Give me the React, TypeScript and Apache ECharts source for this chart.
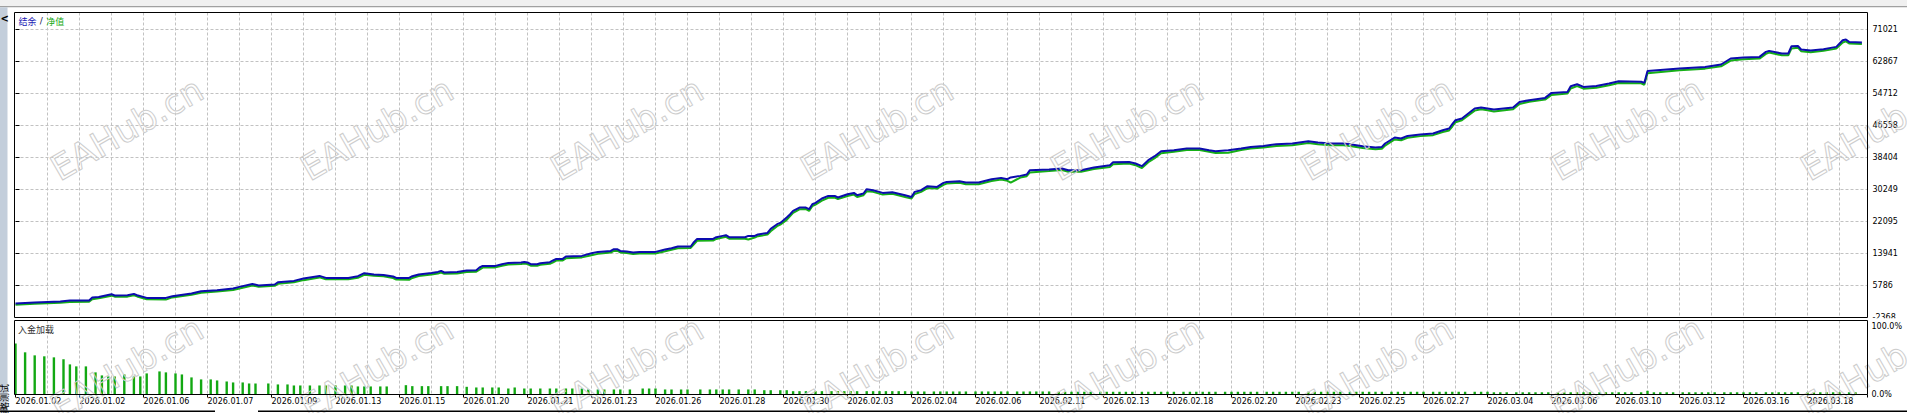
import React, { useEffect, useRef } from 'react';
import * as echarts from 'echarts';

// ---- data ----
const xDateLabels = [
  '2026.01.02', '2026.01.02', '2026.01.06', '2026.01.07', '2026.01.09', '2026.01.13', '2026.01.15',
  '2026.01.20', '2026.01.21', '2026.01.23', '2026.01.26', '2026.01.28', '2026.01.30', '2026.02.03',
  '2026.02.04', '2026.02.06', '2026.02.11', '2026.02.13', '2026.02.18', '2026.02.20', '2026.02.23',
  '2026.02.25', '2026.02.27', '2026.03.04', '2026.03.06', '2026.03.10', '2026.03.12', '2026.03.16',
  '2026.03.18',
];
const yEquityTicks = [-2368, 5786, 13941, 22095, 30249, 38404, 46558, 54712, 62867, 71021];
const loadTicks = ['0.0%', '100.0%'];

// [trade number, balance]
const balance: [number, number][] = [
  [0, 1200], [6, 1450], [14, 1710], [17, 1960], [23, 1960], [24, 2730], [26, 2880], [30, 3570], [31, 3240],
  [35, 3310], [37, 3650], [38, 3310], [41, 2630], [47, 2630], [49, 3060], [55, 3750], [58, 4330], [63, 4590],
  [68, 5020], [70, 5430], [74, 6190], [76, 5790], [81, 6040], [82, 6630], [87, 6960], [90, 7570], [95, 8230],
  [97, 7720], [104, 7720], [107, 8160], [109, 8920], [112, 8590], [115, 8490], [118, 8080], [119, 7720],
  [123, 7720], [124, 8160], [126, 8590], [130, 9000], [132, 9250], [133, 9510], [134, 9100], [138, 9250],
  [141, 9610], [144, 9690], [145, 10370], [146, 10780], [150, 10780], [152, 11210], [154, 11550], [158, 11650],
  [159, 11800], [160, 11650], [161, 11210], [163, 11210], [164, 11470], [167, 11720], [168, 12160], [169, 12560],
  [171, 12560], [172, 13180], [177, 13330], [180, 14020], [182, 14350], [186, 14600], [187, 15040], [188, 15040],
  [189, 14600], [191, 14450], [193, 14200], [195, 14350], [200, 14350], [203, 14960], [205, 15290], [207, 15720],
  [211, 15720], [212, 16820], [213, 17660], [218, 17660], [219, 18090], [221, 18430], [222, 18600], [223, 18090],
  [228, 18090], [229, 18430], [231, 18430], [232, 18780], [235, 19190], [236, 20210], [238, 21410], [239, 21740],
  [241, 23110], [242, 23880], [243, 24800], [245, 25660], [247, 25660], [248, 25230], [249, 26500], [250, 26830],
  [252, 27960], [254, 28620], [256, 28620], [257, 28210], [260, 29050], [262, 29380], [263, 28800], [265, 29230],
  [266, 30330], [268, 30070], [271, 29380], [274, 29560], [278, 28800], [280, 28360], [281, 29640], [283, 30070],
  [285, 31090], [288, 30910], [290, 31930], [291, 32190], [295, 32360], [297, 32030], [301, 32030], [305, 32870],
  [308, 33210], [310, 32870], [311, 33310], [314, 33720], [316, 34070], [317, 35170], [323, 35350], [327, 35600],
  [329, 35170], [333, 35170], [337, 35860], [342, 36440], [343, 37210], [348, 37280], [350, 36870], [352, 36190],
  [354, 37720], [356, 38730], [358, 40010], [362, 40260], [366, 40700], [370, 40700], [373, 40260], [375, 40010],
  [379, 40260], [383, 40700], [386, 41100], [390, 41360], [394, 41790], [399, 41970], [404, 42560], [407, 42230],
  [411, 41970], [415, 41970], [417, 41790], [421, 41280], [425, 40950], [427, 41100], [428, 41970], [431, 43500],
  [433, 43250], [435, 43910], [439, 44260], [443, 44520], [446, 45360], [448, 45790], [449, 46890], [450, 47910],
  [452, 48340], [454, 49620], [456, 50890], [458, 51140], [460, 50890], [462, 50640], [468, 51140], [470, 52570],
  [473, 53000], [478, 53590], [480, 54870], [485, 55120], [486, 56570], [488, 57080], [490, 56390], [494, 56650],
  [498, 57260], [501, 57850], [508, 57720], [509, 57410], [510, 60470], [520, 61080], [528, 61490], [533, 62100],
  [536, 63630], [540, 63890], [545, 64040], [547, 65310], [548, 65570], [552, 64900], [554, 64900], [555, 66770],
  [557, 66840], [558, 65920], [561, 65670], [565, 66000], [569, 66590], [571, 68290], [572, 68470], [573, 67860],
  [577, 67710],
];

// [trade number, equity]
const equity: [number, number][] = [
  [0, 900], [6, 1150], [14, 1400], [17, 1600], [23, 1650], [24, 2300], [26, 2550], [30, 3200], [31, 2950],
  [35, 2950], [37, 3300], [38, 3000], [41, 2300], [47, 2200], [49, 2750], [55, 3400], [58, 3950], [63, 4250],
  [68, 4650], [70, 5000], [74, 5800], [76, 5450], [81, 5700], [82, 6200], [87, 6600], [90, 7150], [95, 7850],
  [97, 7350], [104, 7350], [107, 7750], [109, 8500], [112, 8250], [115, 8150], [118, 7700], [119, 7300],
  [123, 7250], [124, 7700], [126, 8200], [130, 8600], [132, 8850], [133, 9100], [134, 8750], [138, 8850],
  [141, 9200], [144, 9300], [145, 9800], [146, 10350], [150, 10400], [152, 10800], [154, 11150], [158, 11250],
  [159, 11400], [160, 11250], [161, 10850], [163, 10800], [164, 11050], [167, 11300], [168, 11700], [169, 12150],
  [171, 12150], [172, 12700], [177, 12950], [180, 13500], [182, 13850], [186, 14200], [187, 14600], [188, 14650],
  [189, 14200], [191, 14050], [193, 13800], [195, 13950], [200, 13950], [203, 14500], [205, 14900], [207, 15300],
  [211, 15350], [212, 16300], [213, 17200], [218, 17250], [219, 17650], [221, 18000], [222, 18200], [223, 17700],
  [228, 17700], [229, 17500], [231, 18000], [232, 18350], [235, 18750], [236, 19600], [238, 20900], [239, 21300],
  [241, 22500], [242, 23400], [243, 24300], [245, 25200], [247, 25250], [248, 24800], [249, 26000], [250, 26400],
  [252, 27400], [254, 28150], [256, 28200], [257, 27800], [260, 28600], [262, 28950], [263, 28350], [265, 28800],
  [266, 29800], [268, 29650], [271, 28950], [274, 29150], [278, 28350], [280, 27950], [281, 29100], [283, 29650],
  [285, 30600], [288, 30500], [290, 31450], [291, 31750], [295, 31950], [297, 31600], [301, 31600], [305, 32400],
  [308, 32800], [310, 32450], [311, 32000], [314, 33300], [316, 33650], [317, 34600], [323, 34950], [327, 35200],
  [329, 34750], [333, 34750], [337, 35450], [342, 36000], [343, 36700], [348, 36850], [350, 36450], [352, 35700],
  [354, 37200], [356, 38250], [358, 39500], [362, 39850], [366, 40300], [370, 40300], [373, 39850], [375, 39550],
  [379, 39600], [383, 40300], [386, 40700], [390, 40950], [394, 41350], [399, 41550], [404, 42100], [407, 41800],
  [411, 41550], [415, 41550], [417, 41350], [421, 40850], [425, 40500], [427, 40650], [428, 41450], [431, 43000],
  [433, 42800], [435, 43450], [439, 43850], [443, 44100], [446, 44900], [448, 45300], [449, 46300], [450, 47400],
  [452, 47900], [454, 49100], [456, 50350], [458, 50700], [460, 50450], [462, 50150], [468, 50700], [470, 52050],
  [473, 52600], [478, 53150], [480, 54350], [485, 54700], [486, 56000], [488, 56600], [490, 55950], [494, 56200],
  [498, 56800], [501, 57400], [508, 57300], [509, 56950], [510, 59900], [520, 60650], [528, 61050], [533, 61650],
  [536, 63100], [540, 63450], [545, 63600], [547, 64800], [548, 65150], [552, 64450], [554, 64450], [555, 66200],
  [557, 66400], [558, 65500], [561, 65250], [565, 65600], [569, 66150], [571, 67700], [572, 68000], [573, 67450],
  [577, 67300],
];

// [trade number, deposit load %]
const depositLoad: [number, number][] = [
  [0, 69.0], [3, 57.0], [6, 52.9], [9, 51.6], [12, 50.2], [15, 47.5], [17, 40.7], [19, 38.0], [22, 38.0],
  [25, 29.9], [27, 25.8], [29, 24.4], [31, 24.4], [34, 27.1], [37, 24.4], [39, 24.4], [41, 28.5], [45, 31.2],
  [47, 29.9], [50, 28.5], [52, 27.1], [55, 23.1], [58, 20.4], [61, 20.4], [63, 19.0], [66, 17.6], [68, 16.3],
  [71, 16.3], [73, 14.9], [75, 14.9], [79, 14.9], [82, 13.6], [85, 13.6], [87, 12.2], [89, 12.2], [92, 12.2],
  [95, 12.2], [97, 12.2], [100, 12.2], [103, 12.2], [105, 12.2], [107, 10.9], [109, 10.9], [111, 10.9],
  [114, 10.9], [116, 10.9], [122, 12.6], [124, 11.3], [127, 11.3], [129, 11.3], [133, 11.3], [135, 11.3],
  [138, 11.3], [141, 10.4], [144, 9.5], [146, 9.5], [149, 9.5], [151, 9.5], [154, 8.1], [156, 9.5], [159, 8.1],
  [161, 8.1], [164, 8.1], [167, 8.1], [169, 8.1], [172, 8.1], [174, 8.1], [177, 8.1], [179, 6.8], [182, 6.8],
  [184, 6.8], [187, 6.8], [189, 6.8], [192, 6.8], [196, 8.1], [198, 8.1], [200, 8.1], [203, 6.8], [205, 6.8],
  [208, 6.8], [210, 6.8], [214, 6.8], [217, 6.8], [219, 6.8], [221, 6.8], [223, 6.8], [226, 6.8], [229, 6.8],
  [231, 6.8], [234, 5.8], [236, 5.8], [239, 5.8], [241, 5.8], [243, 4.5], [245, 4.5], [247, 4.5], [250, 4.5],
  [252, 4.5], [255, 4.5], [257, 4.5], [259, 4.5], [261, 4.5], [263, 4.5], [266, 4.5], [268, 4.5], [270, 4.5],
  [272, 4.5], [274, 4.5], [276, 4.5], [278, 4.5], [280, 4.1], [282, 4.1], [284, 4.1], [287, 4.1], [289, 4.1],
  [291, 4.1], [293, 4.1], [295, 4.1], [297, 4.1], [300, 4.1], [302, 4.1], [304, 4.1], [306, 4.1], [308, 4.1],
  [310, 4.1], [313, 4.1], [315, 4.1], [317, 4.1], [319, 4.1], [321, 4.1], [323, 4.1], [326, 3.7], [328, 3.7],
  [330, 3.7], [332, 3.7], [334, 3.7], [336, 3.7], [339, 3.7], [341, 3.7], [343, 3.7], [345, 3.7], [347, 3.7],
  [349, 3.7], [352, 3.7], [354, 3.7], [356, 3.7], [358, 3.7], [360, 3.7], [362, 3.7], [365, 3.7], [367, 3.7],
  [369, 3.7], [371, 3.7], [373, 3.7], [375, 3.7], [378, 3.7], [380, 3.7], [382, 3.7], [384, 3.7], [386, 3.7],
  [388, 3.7], [391, 3.7], [393, 3.7], [395, 3.7], [397, 3.7], [399, 3.7], [401, 3.7], [404, 3.7], [406, 3.7],
  [408, 3.7], [410, 3.7], [412, 3.7], [414, 3.7], [417, 3.7], [419, 3.7], [421, 3.7], [423, 3.7], [425, 3.7],
  [427, 3.7], [430, 3.7], [432, 3.7], [434, 3.7], [436, 3.7], [438, 3.7], [440, 3.7], [443, 3.7], [445, 3.7],
  [447, 3.7], [449, 3.7], [451, 3.7], [453, 3.7], [456, 3.7], [458, 3.7], [460, 3.7], [462, 3.0], [464, 3.0],
  [466, 3.0], [469, 3.0], [471, 3.0], [473, 3.0], [475, 3.0], [477, 3.0], [479, 3.0], [482, 3.0], [484, 3.0],
  [486, 3.0], [488, 3.0], [490, 3.0], [492, 3.0], [495, 3.0], [497, 3.0], [499, 3.0], [501, 3.0], [503, 3.0],
  [505, 3.0], [508, 3.0], [510, 5.0], [512, 3.0], [514, 3.0], [516, 3.0], [518, 3.0], [521, 3.0], [523, 3.0],
  [525, 3.0], [527, 3.0], [529, 3.0], [531, 3.0], [534, 3.0], [536, 3.0], [538, 3.0], [540, 3.0], [542, 3.0],
  [544, 3.0], [547, 3.0], [549, 3.0], [551, 3.0], [553, 3.0], [555, 3.0], [557, 3.0], [560, 3.0], [562, 3.0],
  [564, 3.0], [566, 3.0], [568, 3.0], [570, 3.0], [573, 3.0], [575, 3.0],
];

const TRADE_MAX = 578.75;
const Y_MIN = yEquityTicks[0];
const Y_STEP = (yEquityTicks[yEquityTicks.length - 1] - Y_MIN) / (yEquityTicks.length - 1);
const Y_MAX = 75353;

const FONT = '"DejaVu Sans", sans-serif';
const CJK = '"Noto Sans CJK SC", sans-serif';

export default function App() {
  const ref = useRef<HTMLDivElement>(null);

  useEffect(() => {
    const chart = echarts.init(ref.current as HTMLDivElement, null, { renderer: 'svg' });
    const dash = { color: '#c2c2c2', type: [3, 2] as any, width: 1 };

    const watermarks: any[] = [];
    const cols = [127, 377, 627, 877, 1127, 1377, 1627, 1877];
    const rows = [129, 368];
    rows.forEach((cy) =>
      cols.forEach((cx) =>
        watermarks.push({
          type: 'text',
          x: cx,
          y: cy,
          rotation: (30 * Math.PI) / 180,
          z: 5,
          silent: true,
          style: {
            text: 'EAHub.cn',
            font: '35px "DejaVu Sans", sans-serif',
            fill: 'rgba(255,255,255,0)',
            stroke: '#cdcdcd',
            lineWidth: 1,
            align: 'center',
            verticalAlign: 'middle',
          },
        })
      )
    );

    const option: any = {
      animation: false,
      backgroundColor: '#ffffff',
      grid: [
        { left: 15.5, top: 12.5, width: 1852, height: 305, show: false },
        { left: 15.5, top: 320.5, width: 1852, height: 74, show: false },
      ],
      xAxis: [
        {
          type: 'value',
          gridIndex: 0,
          min: 0,
          max: TRADE_MAX,
          interval: 20,
          axisLine: { show: false },
          axisTick: { show: false },
          axisLabel: { show: false },
          splitLine: { show: true, showMinLine: false, showMaxLine: false, lineStyle: dash },
          minorTick: { show: false, splitNumber: 2 },
          minorSplitLine: { show: true, lineStyle: dash },
        },
        {
          type: 'value',
          gridIndex: 1,
          min: 0,
          max: TRADE_MAX,
          interval: 20,
          axisLine: { show: false },
          axisTick: { show: true, length: 3, lineStyle: { color: '#000', width: 1 } },
          axisLabel: {
            show: true,
            align: 'left',
            margin: 3,
            fontSize: 8,
            fontFamily: FONT,
            color: '#000',
            formatter: (v: number) => {
              const i = Math.round(v / 20);
              return Math.abs(v - i * 20) < 1e-6 && i < xDateLabels.length ? xDateLabels[i] : '';
            },
          },
          splitLine: { show: true, showMinLine: false, showMaxLine: false, lineStyle: dash },
          minorTick: { show: false, splitNumber: 2 },
          minorSplitLine: { show: true, lineStyle: dash },
        },
      ],
      yAxis: [
        {
          type: 'value',
          gridIndex: 0,
          position: 'right',
          min: Y_MIN,
          max: Y_MAX,
          interval: Y_STEP,
          axisLine: { show: false },
          axisTick: { show: true, length: 4, lineStyle: { color: '#000', width: 1 } },
          axisLabel: {
            margin: 5,
            fontSize: 8,
            fontFamily: FONT,
            color: '#000',
            formatter: (v: number) => {
              const i = Math.round((v - Y_MIN) / Y_STEP);
              return i >= 0 && i < yEquityTicks.length && Math.abs(v - (Y_MIN + i * Y_STEP)) < 1
                ? String(yEquityTicks[i])
                : '';
            },
          },
          splitLine: { show: true, showMinLine: false, showMaxLine: false, lineStyle: dash },
        },
        {
          type: 'value',
          gridIndex: 1,
          position: 'right',
          min: 0,
          max: 100,
          interval: 100,
          axisLine: { show: false },
          axisTick: { show: false },
          splitLine: { show: false },
          axisLabel: {
            margin: 4,
            fontSize: 8,
            fontFamily: FONT,
            color: '#000',
            formatter: (v: number) => (v >= 99.999 ? '{t|' + loadTicks[1] + '}' : loadTicks[0]),
            rich: { t: { padding: [12, 0, 0, 0], fontSize: 8, fontFamily: FONT, color: '#000' } },
          },
        },
      ],
      series: [
        {
          type: 'line',
          name: '净值',
          xAxisIndex: 0,
          yAxisIndex: 0,
          data: equity,
          symbol: 'none',
          showSymbol: false,
          lineStyle: { color: '#16b016', width: 2 },
          z: 3,
        },
        {
          type: 'line',
          name: '结余',
          xAxisIndex: 0,
          yAxisIndex: 0,
          data: balance,
          symbol: 'none',
          showSymbol: false,
          lineStyle: { color: '#0c0cae', width: 2 },
          z: 4,
        },
        {
          type: 'bar',
          name: '入金加载',
          xAxisIndex: 1,
          yAxisIndex: 1,
          data: depositLoad,
          barWidth: 2.4,
          itemStyle: { color: '#12a812' },
          z: 3,
        },
      ],
      graphic: [
        { type: 'rect', z: 0, silent: true, shape: { x: 0, y: 0, width: 1907, height: 6 }, style: { fill: '#f0f0f0' } },
        { type: 'rect', z: 0, silent: true, shape: { x: 0, y: 6, width: 1907, height: 1.2 }, style: { fill: '#a0a0a0' } },
        { type: 'rect', z: 0, silent: true, shape: { x: 0, y: 7.2, width: 7.5, height: 406 }, style: { fill: '#c3cedb' } },
        {
          type: 'text', z: 20, silent: true, x: 0.5, y: 18.5,
          style: { text: '<', font: 'bold 10px "DejaVu Sans", sans-serif', fill: '#000', verticalAlign: 'middle' },
        },
        {
          type: 'text', z: 20, silent: true, x: 4, y: 420, rotation: Math.PI / 2,
          style: { text: '策略测试', font: '9px "Noto Sans CJK SC", sans-serif', fill: '#000', align: 'left', verticalAlign: 'middle' },
        },
        ...watermarks,
        {
          type: 'rect', z: 30, silent: true,
          shape: { x: 14.5, y: 12.5, width: 1853, height: 305 },
          style: { fill: 'none', stroke: '#000', lineWidth: 1 },
        },
        {
          type: 'rect', z: 30, silent: true,
          shape: { x: 14.5, y: 320.5, width: 1853, height: 74 },
          style: { fill: 'none', stroke: '#000', lineWidth: 1 },
        },
        { type: 'rect', z: 30, silent: true, shape: { x: 1868.2, y: 318.2, width: 39, height: 2.6 }, style: { fill: '#ffffff' } },
        { type: 'rect', z: 30, silent: true, shape: { x: 0, y: 410.6, width: 215, height: 1.4 }, style: { fill: '#000' } },
        { type: 'rect', z: 30, silent: true, shape: { x: 258, y: 410.6, width: 1649, height: 1.4 }, style: { fill: '#000' } },
        {
          type: 'text', z: 30, silent: true, x: 18.5, y: 21,
          style: {
            text: '{b|结余} {s|/} {g|净值}',
            verticalAlign: 'middle',
            rich: {
              b: { fill: '#1a1ab4', fontSize: 9, fontFamily: CJK },
              s: { fill: '#202050', fontSize: 9, fontFamily: FONT },
              g: { fill: '#14a814', fontSize: 9, fontFamily: CJK },
            },
          },
        },
        {
          type: 'text', z: 30, silent: true, x: 18, y: 329.5,
          style: { text: '入金加载', font: '9px "Noto Sans CJK SC", sans-serif', fill: '#333333', verticalAlign: 'middle' },
        },
      ],
    };

    chart.setOption(option);
    return () => chart.dispose();
  }, []);

  return (
    <div
      ref={ref}
      style={{ position: 'fixed', left: 0, top: 0, width: 1907, height: 413, background: '#ffffff' }}
    />
  );
}
